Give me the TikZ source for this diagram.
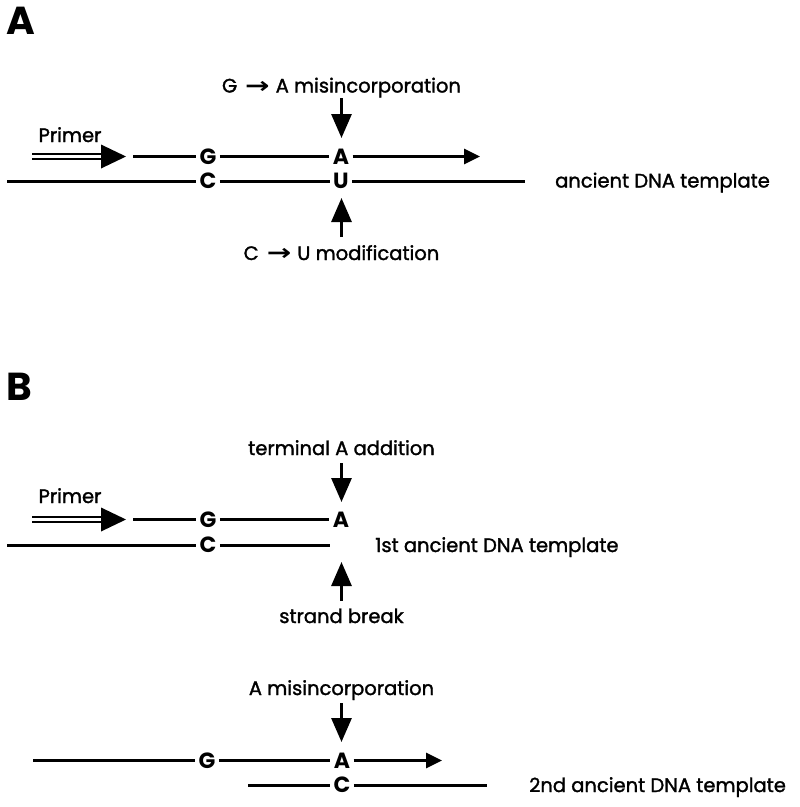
\documentclass[tikz,border=0pt]{standalone}
\usepackage{fontspec}
\setmainfont{Poppins}
\newfontfamily\arrowfont{DejaVu Sans}
\usetikzlibrary{arrows.meta}
\newcommand{\lblfont}{\fontsize{19.5}{21}\selectfont\addfontfeatures{FakeBold=1.5}}
\newcommand{\basefont}{\fontsize{22}{24}\selectfont\bfseries}
\newcommand{\panelfont}{\fontsize{39}{41}\selectfont\bfseries}
\newcommand{\tarrow}{\hspace{8pt}\raisebox{-0.5pt}{\scalebox{1.5}[1.15]{\arrowfont\bfseries →}}\hspace{6pt}}
\begin{document}
\begin{tikzpicture}[x=1pt,y=-1pt,
  strand/.style={line width=3pt},
  basenode/.style={font=\basefont, inner sep=0pt, outer xsep=3.5pt},
  lbl/.style={font=\lblfont, inner sep=0pt, anchor=base},
  tlbl/.style={font=\lblfont, inner sep=0pt, anchor=base west},
  vArr/.style={line width=3pt, -{Triangle[length=24pt,width=20pt]}},
  hArr/.style={line width=3pt, -{Triangle[length=16pt,width=15pt]}},
  primerline/.style={line width=2.2pt}
]
\useasboundingbox (0,0) rectangle (800,807);

% ---------------- Panel A ----------------
\node[font=\panelfont, inner sep=0pt, anchor=base west] (pA) at (6,34) {A};

\node[lbl] (mis1) at (341.5,92.5) {G\tarrow A misincorporation};
\node[lbl] (mod1) at (341.5,260) {C\tarrow U modification};
\node[lbl] (prA) at (70,142) {Primer};
\node[tlbl] (tA) at (555,187.5) {ancient DNA template};

\node[basenode] (Ga) at (208,156.5) {G};
\node[basenode] (Aa) at (341,156.5) {A};
\node[basenode] (Ca) at (208,181) {C};
\node[basenode] (Ua) at (341,181) {U};

\coordinate (pAs) at (32,156.5);
\coordinate (pAe) at (126,156.5);
\coordinate (sAt) at (133,156.5);
\coordinate (eAt) at (480,156.5);
\coordinate (sAb) at (7,181);
\coordinate (eAb) at (525,181);

\draw[primerline] ([yshift=-2.4pt]pAs) -- ([xshift=-20pt,yshift=-2.4pt]pAe);
\draw[primerline] ([yshift=2.4pt]pAs) -- ([xshift=-20pt,yshift=2.4pt]pAe);
\fill (pAe) -- ++(-25,-12) -- ++(0,24) -- cycle;

\draw[strand] (sAt) -- (Ga.west);
\draw[strand] (Ga.east) -- (Aa.west);
\draw[hArr] (Aa.east) -- (eAt);
\draw[strand] (sAb) -- (Ca.west);
\draw[strand] (Ca.east) -- (Ua.west);
\draw[strand] (Ua.east) -- (eAb);

\coordinate (d1s) at (341.5,98);
\coordinate (d1e) at (341.5,138);
\coordinate (u1s) at (341.5,237);
\coordinate (u1e) at (341.5,198);
\draw[vArr] (d1s) -- (d1e);
\draw[vArr] (u1s) -- (u1e);

% ---------------- Panel B ----------------
\node[font=\panelfont, inner sep=0pt, anchor=base west] (pB) at (6,400) {B};

\node[lbl] (term) at (341.5,455) {terminal A addition};
\node[lbl] (brk) at (341.5,623) {strand break};
\node[lbl] (prB) at (70,503) {Primer};
\node[tlbl] (t1) at (375,552) {1st ancient DNA template};

\node[basenode] (Gb) at (208,519.5) {G};
\node[basenode] (Ab) at (341,519.5) {A};
\node[basenode] (Cb) at (208,545) {C};

\coordinate (pBs) at (32,519.5);
\coordinate (pBe) at (126,519.5);
\coordinate (sBt) at (133,519.5);
\coordinate (sBb) at (7,545);
\coordinate (eBb) at (330,545);

\draw[primerline] ([yshift=-2.4pt]pBs) -- ([xshift=-20pt,yshift=-2.4pt]pBe);
\draw[primerline] ([yshift=2.4pt]pBs) -- ([xshift=-20pt,yshift=2.4pt]pBe);
\fill (pBe) -- ++(-25,-12) -- ++(0,24) -- cycle;

\draw[strand] (sBt) -- (Gb.west);
\draw[strand] (Gb.east) -- (Ab.west);
\draw[strand] (sBb) -- (Cb.west);
\draw[strand] (Cb.east) -- (eBb);

\coordinate (d2s) at (341.5,463);
\coordinate (d2e) at (341.5,502);
\coordinate (u2s) at (341.5,601);
\coordinate (u2e) at (341.5,562);
\draw[vArr] (d2s) -- (d2e);
\draw[vArr] (u2s) -- (u2e);

% second template
\node[lbl] (mis2) at (341.5,695) {A misincorporation};
\node[tlbl] (t2) at (529,792) {2nd ancient DNA template};

\node[basenode] (Gc) at (207,760.5) {G};
\node[basenode] (Ac) at (342,760.5) {A};
\node[basenode] (Cc) at (342,785) {C};

\coordinate (sCt) at (33,760.5);
\coordinate (eCt) at (442,760.5);
\coordinate (sCb) at (248,785);
\coordinate (eCb) at (487,785);

\draw[strand] (sCt) -- (Gc.west);
\draw[strand] (Gc.east) -- (Ac.west);
\draw[hArr] (Ac.east) -- (eCt);
\draw[strand] (sCb) -- (Cc.west);
\draw[strand] (Cc.east) -- (eCb);

\coordinate (d3s) at (341.5,703);
\coordinate (d3e) at (341.5,742);
\draw[vArr] (d3s) -- (d3e);
\end{tikzpicture}
\end{document}
